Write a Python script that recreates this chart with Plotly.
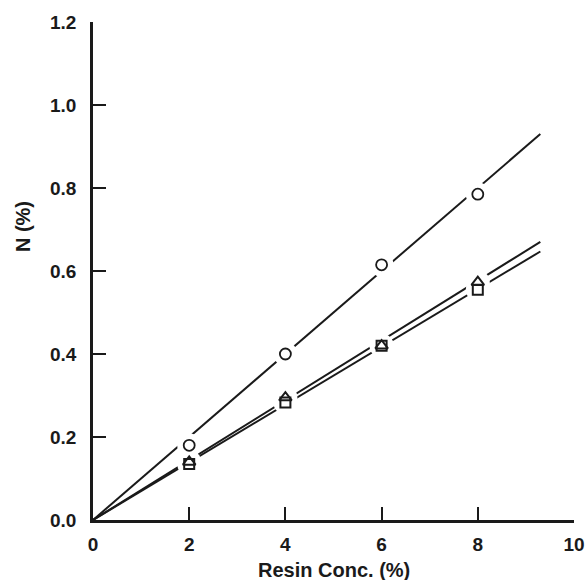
import plotly.graph_objects as go

# Data
resin_conc = [2, 4, 6, 8]
n_circle = [0.18, 0.40, 0.615, 0.785]
n_triangle = [0.14, 0.295, 0.42, 0.573]
n_square = [0.135, 0.283, 0.42, 0.555]

# fitted lines (start at origin, end at x=9.3)
line_x = [0, 9.3]
line_circle = [0, 0.93]
line_triangle = [0, 0.67]
line_square = [0, 0.647]

x_ticks = [0, 2, 4, 6, 8, 10]
y_ticks = [0.0, 0.2, 0.4, 0.6, 0.8, 1.0, 1.2]
y_tick_text = ["0.0", "0.2", "0.4", "0.6", "0.8", "1.0", "1.2"]

FONT = "Liberation Sans, Arial, sans-serif"
INK = "#1a1a1a"

fig = go.Figure()

# regression lines
for ys in (line_circle, line_triangle, line_square):
    fig.add_trace(go.Scatter(x=line_x, y=ys, mode="lines",
                             line=dict(color=INK, width=2),
                             showlegend=False, hoverinfo="skip"))

# white masks to create gaps in lines around markers
for ys in (n_circle, n_triangle, n_square):
    fig.add_trace(go.Scatter(x=resin_conc, y=ys, mode="markers",
                             marker=dict(symbol="circle", size=24, color="white",
                                         line=dict(width=0)),
                             showlegend=False, hoverinfo="skip"))

# markers
fig.add_trace(go.Scatter(x=resin_conc, y=n_circle, mode="markers",
                         marker=dict(symbol="circle-open", size=11,
                                     color=INK, line=dict(width=1.8)),
                         showlegend=False))
fig.add_trace(go.Scatter(x=resin_conc, y=n_square, mode="markers",
                         marker=dict(symbol="square-open", size=10,
                                     color=INK, line=dict(width=2)),
                         showlegend=False))
fig.add_trace(go.Scatter(x=resin_conc, y=n_triangle, mode="markers",
                         marker=dict(symbol="triangle-up-open", size=11,
                                     color=INK, line=dict(width=2)),
                         showlegend=False))

fig.update_layout(
    width=585, height=580,
    margin=dict(l=93, r=11, t=22, b=60),
    paper_bgcolor="white", plot_bgcolor="white",
    font=dict(family=FONT, color=INK, size=19, weight="bold"),
    showlegend=False,
    xaxis=dict(range=[0, 10], tickvals=x_ticks, showgrid=False, zeroline=False,
               automargin=False,
               showline=True, linecolor=INK, linewidth=2.5,
               ticks="inside", ticklen=13, tickwidth=2, tickcolor=INK,
               ticklabelstandoff=5,
               tickfont=dict(family=FONT, size=19, color=INK, weight="bold")),
    yaxis=dict(range=[0, 1.2], tickvals=y_ticks, ticktext=y_tick_text,
               showgrid=False, zeroline=False, automargin=False,
               showline=True, linecolor=INK, linewidth=2.5,
               ticks="inside", ticklen=13, tickwidth=2, tickcolor=INK,
               ticklabelstandoff=10,
               tickfont=dict(family=FONT, size=19, color=INK, weight="bold")),
    annotations=[
        dict(text="N (%)", xref="paper", yref="y", x=-0.1454, y=0.706,
             xanchor="center", yanchor="middle", textangle=-90,
             showarrow=False,
             font=dict(family=FONT, size=20, color=INK, weight="bold")),
        dict(text="Resin Conc. (%)", xref="paper", yref="paper", x=0.5, y=-0.0994,
             xanchor="center", yanchor="middle", showarrow=False,
             font=dict(family=FONT, size=20, color=INK, weight="bold")),
    ],
)

fig.write_html("out.html")
